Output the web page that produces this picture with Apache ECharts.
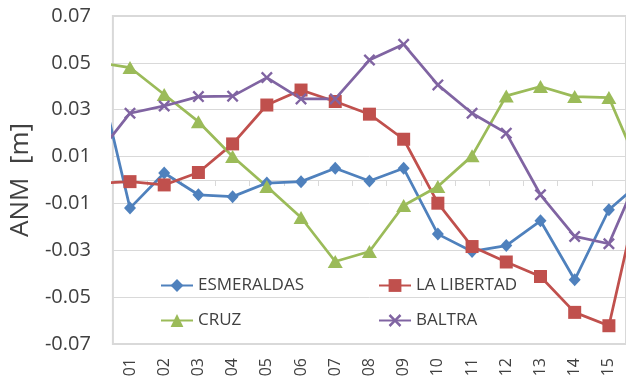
<!DOCTYPE html>
<html>
<head>
<meta charset="utf-8">
<script src="https://cdn.jsdelivr.net/npm/echarts@6/dist/echarts.min.js"></script>
<style>
  html, body { margin: 0; padding: 0; background: #fff; }
  #chart { width: 626px; height: 381px; }
</style>
</head>
<body>
<div id="chart"></div>
<script>
// Category labels shown on the x axis
const categories = ['01','02','03','04','05','06','07','08','09','10','11','12','13','14','15'];

// Y tick range / step (m)
const yMin = -0.07, yMax = 0.07, yStep = 0.02;

// ANM per station. The first and last entries are the neighbouring
// periods (00 and 16) so that each line runs on to the plot edges.
const esmeraldas = [0.05, -0.012, 0.003, -0.0063, -0.0071, -0.0013, -0.0007, 0.005, -0.0004, 0.005, -0.0231, -0.0305, -0.028, -0.0174, -0.0426, -0.0127, 0.0];
const laLibertad = [-0.0015, -0.0007, -0.0021, 0.0032, 0.0154, 0.032, 0.0384, 0.0335, 0.0281, 0.0174, -0.0099, -0.0284, -0.035, -0.0412, -0.0565, -0.0622, 0.002];
const cruz       = [0.0502, 0.048, 0.0365, 0.0249, 0.010, -0.0028, -0.016, -0.0348, -0.0305, -0.0109, -0.0028, 0.0103, 0.0359, 0.0399, 0.0356, 0.0352, 0.0013];
const baltra     = [0.0101, 0.0285, 0.0316, 0.0356, 0.0358, 0.0437, 0.0346, 0.0346, 0.0512, 0.0579, 0.0406, 0.0285, 0.020, -0.0063, -0.0241, -0.0272, 0.0065];

const FONT = '"Open Sans", "Liberation Sans", sans-serif';
const TXT = '#404040';
const GRID = '#d9d9d9';

const xMark = 'path://M0,1.4 L1.4,0 L5,3.6 L8.6,0 L10,1.4 L6.4,5 L10,8.6 L8.6,10 L5,6.4 L1.4,10 L0,8.6 L3.6,5 Z';

function pairs(arr) { return arr.map((v, i) => [i, v]); }

function makeSeries(name, data, color, symbol, size) {
  return {
    name: name,
    type: 'line',
    xAxisIndex: 2,
    data: pairs(data),
    clip: true,
    symbol: symbol,
    symbolSize: size,
    showAllSymbol: true,
    lineStyle: { color: color, width: 2.75 },
    itemStyle: { color: color },
    emphasis: { disabled: true },
    animation: false
  };
}

const chart = echarts.init(document.getElementById('chart'), null, { renderer: 'canvas' });

chart.setOption({
  backgroundColor: '#ffffff',
  animation: false,
  grid: {
    left: 112.8, top: 16, right: -3, bottom: 37,
    show: true, borderColor: GRID, borderWidth: 2, backgroundColor: 'transparent'
  },
  legend: [
    {
      data: ['ESMERALDAS', 'CRUZ'],
      orient: 'vertical', left: 160, top: 277, padding: 0,
      itemWidth: 32, itemHeight: 16, itemGap: 18,
      textStyle: { fontFamily: FONT, fontSize: 17, color: TXT }
    },
    {
      data: ['LA LIBERTAD', 'BALTRA'],
      orient: 'vertical', left: 378, top: 277, padding: 0,
      itemWidth: 32, itemHeight: 16, itemGap: 18,
      textStyle: { fontFamily: FONT, fontSize: 17, color: TXT }
    }
  ],
  xAxis: [
    {
      // bottom labels
      type: 'category', data: categories, position: 'bottom', boundaryGap: true,
      axisLine: { show: false, onZero: false },
      axisTick: { show: false },
      axisLabel: { rotate: 90, fontFamily: FONT, fontSize: 16, color: TXT, margin: 14 },
      splitLine: { show: false }
    },
    {
      // axis line with ticks on the zero level
      type: 'category', data: categories, position: 'bottom', boundaryGap: true,
      axisLine: { show: true, onZero: true, lineStyle: { color: GRID, width: 1 } },
      axisTick: { show: true, length: 6, lineStyle: { color: GRID, width: 1 } },
      axisLabel: { show: false },
      splitLine: { show: false }
    },
    {
      // numeric scale the series are drawn on
      type: 'value', min: 0.5, max: 15.5, show: false,
      splitLine: { show: false }
    }
  ],
  yAxis: {
    type: 'value', min: yMin, max: yMax, interval: yStep,
    name: 'ANM  [m]', nameLocation: 'middle', nameGap: 74,
    nameTextStyle: { fontFamily: FONT, fontSize: 26, color: TXT },
    axisLine: { show: false }, axisTick: { show: false },
    axisLabel: {
      fontFamily: FONT, fontSize: 20, color: TXT, margin: 22,
      formatter: v => v.toFixed(2)
    },
    splitLine: { lineStyle: { color: GRID, width: 1 } }
  },
  series: [
    makeSeries('ESMERALDAS', esmeraldas, '#4F81BD', 'diamond', [12, 13]),
    makeSeries('LA LIBERTAD', laLibertad, '#C0504D', 'rect', 13),
    makeSeries('CRUZ', cruz, '#9BBB59', 'triangle', [15, 13]),
    makeSeries('BALTRA', baltra, '#8064A2', xMark, 12)
  ]
});
</script>
</body>
</html>
